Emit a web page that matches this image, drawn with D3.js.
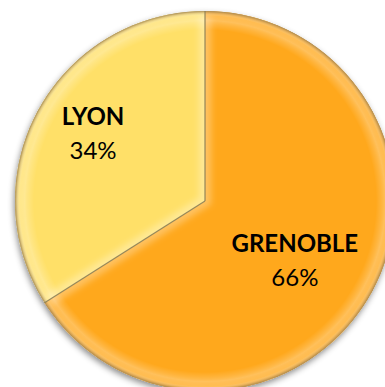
<!DOCTYPE html>
<html>
<head>
<meta charset="utf-8">
<script src="https://cdn.jsdelivr.net/npm/d3@7"></script>
<style>
  html, body { margin: 0; padding: 0; background: #ffffff; }
  svg { display: block; }
</style>
</head>
<body>
<svg id="chart" width="385" height="387"></svg>
<script>
// City share data
const cities = ["GRENOBLE", "LYON"];
const shares = [66, 34];
const shareLabels = ["66%", "34%"];

const width = 385, height = 387;
const cx = 205, cy = 201, radius = 190;

const svg = d3.select("#chart");
const defs = svg.append("defs");

const color = d3.scaleOrdinal()
  .domain(cities)
  .range(["#ffa81b", "#ffe067"]);

// soft shadow under the whole pie
const shadow = defs.append("filter").attr("id", "pieShadow")
  .attr("x", "-20%").attr("y", "-20%").attr("width", "140%").attr("height", "140%");
shadow.append("feDropShadow")
  .attr("dx", -1).attr("dy", 3).attr("stdDeviation", 3)
  .attr("flood-color", "#000").attr("flood-opacity", 0.45);

// blur for the bevel highlight along slice edges
defs.append("filter").attr("id", "bevelBlur")
  .append("feGaussianBlur").attr("stdDeviation", 3);

// rim shading: light band just inside the edge, darker at the very rim
const rim = defs.append("radialGradient").attr("id", "rimShade")
  .attr("gradientUnits", "userSpaceOnUse")
  .attr("cx", 0).attr("cy", 0).attr("r", radius);
[[0, "#ffffff", 0], [0.90, "#ffffff", 0], [0.95, "#ffffff", 0.25],
 [0.975, "#ffffff", 0.05], [0.99, "#6b3f00", 0.28], [1, "#5a3500", 0.6]]
  .forEach(([o, c, a]) => rim.append("stop")
    .attr("offset", o).attr("stop-color", c).attr("stop-opacity", a));

const data = cities.map((c, i) => ({ city: c, share: shares[i], label: shareLabels[i] }));

const pie = d3.pie().sort(null).value(d => d.share).startAngle(0).endAngle(2 * Math.PI);
const arcs = pie(data);

const arc = d3.arc().innerRadius(0).outerRadius(radius);

const g = svg.append("g").attr("transform", `translate(${cx},${cy})`);

// slices with shadow
const sliceGroup = g.append("g").attr("filter", "url(#pieShadow)");
sliceGroup.selectAll("path.slice")
  .data(arcs)
  .join("path")
  .attr("class", "slice")
  .attr("d", arc)
  .attr("fill", d => color(d.data.city));

// clip paths, one per slice, for the inner bevel
arcs.forEach((d, i) => {
  defs.append("clipPath").attr("id", "clip" + i)
    .attr("clipPathUnits", "userSpaceOnUse")
    .append("path")
    .attr("transform", `translate(${cx},${cy})`)
    .attr("d", arc(d));
});

const bevel = svg.append("g");
arcs.forEach((d, i) => {
  bevel.append("g").attr("clip-path", `url(#clip${i})`)
    .append("path")
    .attr("transform", `translate(${cx},${cy})`)
    .attr("d", arc(d))
    .attr("fill", "none")
    .attr("stroke", "#ffffff")
    .attr("stroke-opacity", 0.3)
    .attr("stroke-width", 12)
    .attr("filter", "url(#bevelBlur)");
});

// rim shading overlay
g.append("circle").attr("r", radius).attr("fill", "url(#rimShade)");

// faint outline around the rim
g.append("circle").attr("r", radius - 0.5)
  .attr("fill", "none")
  .attr("stroke", "#8a6010")
  .attr("stroke-opacity", 0.35)
  .attr("stroke-width", 1);

// dark radial seams where the slices meet
const radialLine = d3.lineRadial();
g.selectAll("path.seam")
  .data(arcs)
  .join("path")
  .attr("class", "seam")
  .attr("d", d => radialLine([[d.startAngle, 0], [d.startAngle, radius]]))
  .attr("fill", "none")
  .attr("stroke", "#5a4a12")
  .attr("stroke-opacity", 0.85)
  .attr("stroke-width", 1.3);

// labels
const labelRadius = { "GRENOBLE": 0.57, "LYON": 0.687 };
const labelAngleShift = { "GRENOBLE": 0.09, "LYON": 0.037 };

const labels = g.selectAll("g.label")
  .data(arcs)
  .join("g")
  .attr("class", "label")
  .attr("transform", d => {
    const a = (d.startAngle + d.endAngle) / 2 + labelAngleShift[d.data.city];
    const r = radius * labelRadius[d.data.city];
    return `translate(${r * Math.sin(a)},${-r * Math.cos(a)})`;
  });

labels.append("text")
  .attr("text-anchor", "middle")
  .attr("y", -9)
  .attr("font-family", "Lato, 'Open Sans', sans-serif")
  .attr("font-weight", "bold")
  .attr("font-size", 24)
  .attr("fill", "#000")
  .text(d => d.data.city);

labels.append("text")
  .attr("text-anchor", "middle")
  .attr("y", 25)
  .attr("font-family", "Lato, 'Open Sans', sans-serif")
  .attr("font-size", 24)
  .attr("fill", "#000")
  .text(d => d.data.label);
</script>
</body>
</html>
